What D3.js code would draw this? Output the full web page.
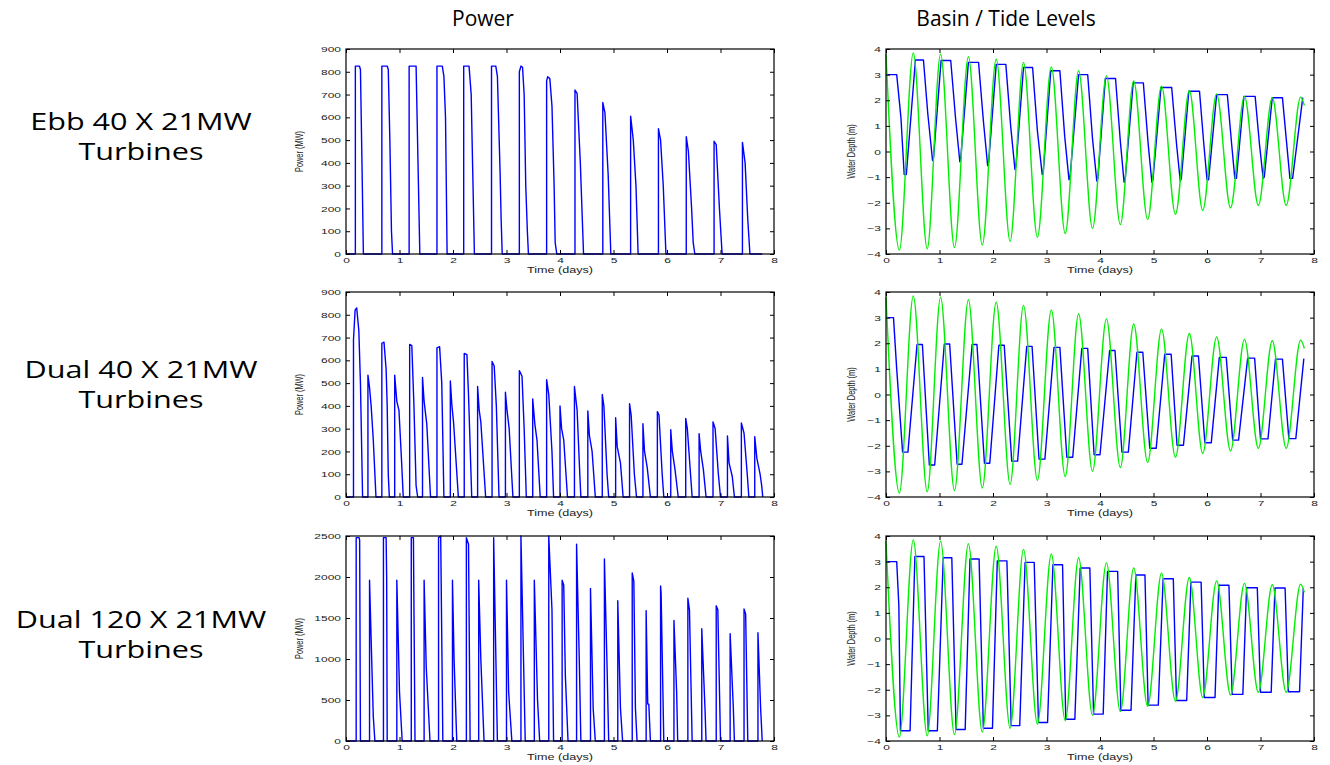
<!DOCTYPE html>
<html>
<head>
<meta charset="utf-8">
<script src="https://cdn.jsdelivr.net/npm/d3@7"></script>
<style>
  body { margin: 0; background: #fff; }
  svg { display: block; }
</style>
</head>
<body>
<svg id="chart" width="1330" height="765"></svg>
<script>
// row / column headings
const colTitles = ['Power', 'Basin / Tide Levels'];
const rowTitles = [['Ebb 40 X 21MW', 'Turbines'], ['Dual 40 X 21MW', 'Turbines'], ['Dual 120 X 21MW', 'Turbines']];

// tick values
const timeTicks = [0, 1, 2, 3, 4, 5, 6, 7, 8];
const powerTicks = [0, 100, 200, 300, 400, 500, 600, 700, 800, 900];
const bigPowerTicks = [0, 500, 1000, 1500, 2000, 2500];
const depthTicks = [-4, -3, -2, -1, 0, 1, 2, 3, 4];

// tide level (green), read at the peaks and troughs: [days, m]
const tide = [[0, 3.8], [0.25, -3.85], [0.51, 3.85], [0.77, -3.8], [1.02, 3.8], [1.28, -3.75], [1.54, 3.7],
  [1.8, -3.65], [2.06, 3.6], [2.32, -3.5], [2.57, 3.48], [2.83, -3.35], [3.09, 3.3], [3.35, -3.2], [3.6, 3.15],
  [3.86, -3.0], [4.12, 2.95], [4.38, -2.85], [4.63, 2.75], [4.89, -2.65], [5.15, 2.55], [5.41, -2.45],
  [5.67, 2.38], [5.92, -2.3], [6.18, 2.25], [6.44, -2.2], [6.7, 2.15], [6.96, -2.1], [7.22, 2.1], [7.48, -2.1],
  [7.75, 2.12], [7.82, 1.8]];

// basin levels (blue): [days, m]
const ebbBasin = [[0, 3.0], [0.2, 3.0], [0.28, 1.3], [0.34, -0.9], [0.38, -0.9], [0.55, 3.57], [0.7, 3.57],
  [0.78, 1.5], [0.87, -0.35], [0.89, -0.2], [1.03, 3.55], [1.21, 3.55], [1.3, 1.3], [1.38, -0.4], [1.4, -0.2],
  [1.54, 3.48], [1.73, 3.48], [1.82, 1.2], [1.9, -0.55], [1.92, -0.4], [2.06, 3.4], [2.24, 3.4], [2.33, 1.0],
  [2.41, -0.7], [2.43, -0.55], [2.57, 3.28], [2.74, 3.28], [2.83, 0.8], [2.92, -0.9], [2.94, -0.8], [3.08, 3.15],
  [3.25, 3.15], [3.34, 0.6], [3.42, -1.1], [3.44, -1.0], [3.6, 3.0], [3.77, 3.0], [3.86, 0.5], [3.94, -1.15],
  [3.96, -1.05], [4.1, 2.85], [4.29, 2.85], [4.38, 0.4], [4.45, -1.2], [4.47, -1.1], [4.62, 2.68], [4.81, 2.68],
  [4.9, 0.3], [4.97, -1.2], [4.99, -1.1], [5.14, 2.5], [5.34, 2.5], [5.43, 0.3], [5.5, -1.15], [5.52, -1.05],
  [5.66, 2.35], [5.86, 2.35], [5.94, 0.3], [6.0, -1.1], [6.03, -1.1], [6.18, 2.22], [6.38, 2.22], [6.46, 0.3],
  [6.52, -1.05], [6.55, -1.05], [6.69, 2.15], [6.9, 2.15], [6.98, 0.3], [7.05, -1.05], [7.07, -1.0], [7.22, 2.1],
  [7.41, 2.1], [7.49, 0.3], [7.55, -1.05], [7.6, -1.05], [7.79, 2.1]];

const dual40Basin = [[0, 3.0], [0.14, 3.0], [0.2, 1.0], [0.31, -2.25], [0.41, -2.25], [0.58, 1.95], [0.68, 1.95],
  [0.81, -2.75], [0.91, -2.75], [1.09, 1.97], [1.19, 1.97], [1.33, -2.72], [1.42, -2.72], [1.61, 1.95], [1.7, 1.95],
  [1.84, -2.68], [1.94, -2.68], [2.11, 1.92], [2.21, 1.92], [2.35, -2.6], [2.46, -2.6], [2.63, 1.88], [2.73, 1.88],
  [2.86, -2.52], [2.97, -2.52], [3.14, 1.84], [3.25, 1.84], [3.38, -2.45], [3.49, -2.45], [3.66, 1.8], [3.77, 1.8],
  [3.89, -2.35], [4.0, -2.35], [4.18, 1.72], [4.28, 1.72], [4.41, -2.25], [4.53, -2.25], [4.69, 1.65], [4.8, 1.65],
  [4.93, -2.1], [5.05, -2.1], [5.21, 1.57], [5.33, 1.57], [5.44, -1.98], [5.56, -1.98], [5.72, 1.5], [5.84, 1.5],
  [5.96, -1.88], [6.08, -1.88], [6.23, 1.45], [6.36, 1.45], [6.48, -1.78], [6.59, -1.78], [6.76, 1.42], [6.89, 1.42],
  [7.0, -1.73], [7.14, -1.73], [7.28, 1.38], [7.41, 1.38], [7.53, -1.72], [7.66, -1.72], [7.81, 1.4]];

const dual120Basin = [[0, 3.0], [0.2, 3.0], [0.24, 1.3], [0.27, -3.6], [0.45, -3.6], [0.54, 3.2], [0.71, 3.2],
  [0.79, -3.6], [0.96, -3.6], [1.07, 3.15], [1.23, 3.15], [1.31, -3.55], [1.48, -3.55], [1.57, 3.1], [1.74, 3.1],
  [1.82, -3.5], [1.99, -3.5], [2.08, 3.03], [2.26, 3.03], [2.34, -3.4], [2.5, -3.4], [2.6, 2.97], [2.77, 2.97],
  [2.85, -3.28], [3.02, -3.28], [3.12, 2.88], [3.3, 2.88], [3.36, -3.15], [3.53, -3.15], [3.63, 2.75], [3.81, 2.75],
  [3.88, -2.95], [4.06, -2.95], [4.14, 2.62], [4.33, 2.62], [4.39, -2.8], [4.58, -2.8], [4.67, 2.48], [4.84, 2.48],
  [4.9, -2.6], [5.09, -2.6], [5.18, 2.33], [5.37, 2.33], [5.43, -2.42], [5.62, -2.42], [5.7, 2.2], [5.89, 2.2],
  [5.95, -2.3], [6.15, -2.3], [6.22, 2.08], [6.41, 2.08], [6.47, -2.18], [6.67, -2.18], [6.74, 1.98], [6.94, 1.98],
  [7.0, -2.1], [7.2, -2.1], [7.27, 1.97], [7.46, 1.97], [7.52, -2.08], [7.73, -2.08], [7.8, 1.95]];

// power output (blue): [days, MW]
const ebbPower = [[0, 0], [0.175, 0], [0.175, 825], [0.25, 825], [0.27, 810], [0.3, 380], [0.325, 0],
  [0.67, 0], [0.67, 825], [0.77, 825], [0.79, 810], [0.82, 500], [0.85, 100], [0.87, 0],
  [1.18, 0], [1.18, 825], [1.31, 825], [1.38, 0],
  [1.7, 0], [1.7, 825], [1.8, 825], [1.83, 780], [1.86, 600], [1.89, 0],
  [2.2, 0], [2.2, 825], [2.3, 825], [2.34, 700], [2.37, 350], [2.4, 0],
  [2.72, 0], [2.72, 825], [2.8, 825], [2.83, 780], [2.88, 360], [2.9, 150], [2.92, 0],
  [3.24, 0], [3.24, 800], [3.27, 825], [3.3, 820], [3.33, 700], [3.36, 300], [3.39, 100], [3.41, 0],
  [3.75, 0], [3.75, 760], [3.77, 778], [3.81, 770], [3.85, 650], [3.89, 300], [3.91, 50], [3.94, 0],
  [4.28, 0], [4.28, 720], [4.32, 705], [4.38, 400], [4.44, 0],
  [4.8, 0], [4.8, 665], [4.84, 620], [4.9, 350], [4.95, 0],
  [5.32, 0], [5.32, 605], [5.37, 500], [5.42, 300], [5.46, 0],
  [5.84, 0], [5.84, 550], [5.88, 500], [5.93, 300], [5.98, 0],
  [6.36, 0], [6.36, 515], [6.4, 450], [6.46, 200], [6.49, 50], [6.52, 0],
  [6.88, 0], [6.88, 495], [6.92, 480], [6.98, 200], [7.03, 0],
  [7.41, 0], [7.41, 490], [7.46, 400], [7.51, 150], [7.55, 0], [7.78, 0]];

const dual40Power = [[0, 0], [0.14, 0], [0.14, 690], [0.17, 820], [0.2, 830], [0.24, 730], [0.27, 500], [0.31, 0],
  [0.41, 0], [0.41, 535], [0.44, 480], [0.47, 400], [0.51, 250], [0.56, 0],
  [0.67, 0], [0.67, 675], [0.71, 680], [0.75, 560], [0.77, 400], [0.79, 100], [0.81, 0],
  [0.91, 0], [0.91, 535], [0.95, 420], [0.99, 380], [1.04, 150], [1.07, 0],
  [1.19, 0], [1.19, 670], [1.23, 665], [1.27, 400], [1.31, 50], [1.34, 0],
  [1.43, 0], [1.43, 525], [1.46, 420], [1.51, 320], [1.58, 0],
  [1.7, 0], [1.7, 655], [1.75, 660], [1.79, 500], [1.83, 0],
  [1.95, 0], [1.95, 510], [1.98, 400], [2.01, 330], [2.1, 0],
  [2.21, 0], [2.21, 630], [2.26, 625], [2.29, 450], [2.35, 0],
  [2.46, 0], [2.46, 485], [2.49, 380], [2.52, 330], [2.61, 0],
  [2.73, 0], [2.73, 595], [2.77, 575], [2.81, 400], [2.86, 0],
  [2.98, 0], [2.98, 460], [3.01, 380], [3.05, 300], [3.12, 0],
  [3.24, 0], [3.24, 555], [3.29, 530], [3.33, 300], [3.37, 0],
  [3.49, 0], [3.49, 430], [3.53, 320], [3.57, 250], [3.63, 0],
  [3.75, 0], [3.75, 515], [3.79, 450], [3.85, 200], [3.88, 0],
  [4.0, 0], [4.0, 400], [4.03, 300], [4.07, 250], [4.14, 0],
  [4.27, 0], [4.27, 485], [4.32, 380], [4.37, 100], [4.39, 0],
  [4.52, 0], [4.52, 378], [4.55, 270], [4.6, 200], [4.66, 0],
  [4.79, 0], [4.79, 450], [4.82, 400], [4.88, 100], [4.91, 0],
  [5.04, 0], [5.04, 348], [5.07, 220], [5.13, 150], [5.18, 0],
  [5.3, 0], [5.3, 410], [5.33, 360], [5.39, 100], [5.43, 0],
  [5.55, 0], [5.55, 322], [5.58, 200], [5.63, 130], [5.69, 0],
  [5.82, 0], [5.82, 375], [5.85, 360], [5.91, 100], [5.94, 0],
  [6.07, 0], [6.07, 295], [6.1, 200], [6.15, 120], [6.21, 0],
  [6.35, 0], [6.35, 345], [6.38, 300], [6.44, 100], [6.47, 0],
  [6.6, 0], [6.6, 278], [6.63, 200], [6.68, 120], [6.73, 0],
  [6.86, 0], [6.86, 330], [6.9, 300], [6.96, 100], [7.0, 0],
  [7.13, 0], [7.13, 268], [7.16, 150], [7.22, 90], [7.26, 0],
  [7.39, 0], [7.39, 325], [7.44, 280], [7.5, 100], [7.53, 0],
  [7.64, 0], [7.64, 265], [7.68, 170], [7.74, 100], [7.77, 50], [7.79, 0]];

const dual120Power = [[0, 0], [0.19, 0], [0.19, 2480], [0.245, 2480], [0.255, 2450], [0.27, 0],
  [0.44, 0], [0.44, 1960], [0.48, 1000], [0.51, 300], [0.54, 0],
  [0.7, 0], [0.7, 2480], [0.75, 2480], [0.76, 2000], [0.77, 0],
  [0.95, 0], [0.95, 1960], [1.0, 600], [1.05, 0],
  [1.22, 0], [1.22, 2480], [1.26, 2480], [1.29, 0],
  [1.46, 0], [1.46, 1960], [1.5, 900], [1.57, 0],
  [1.73, 0], [1.73, 2480], [1.77, 2500], [1.81, 0],
  [1.99, 0], [1.99, 1960], [2.02, 1000], [2.07, 0],
  [2.25, 0], [2.25, 2480], [2.29, 2400], [2.32, 0],
  [2.48, 0], [2.48, 1960], [2.52, 1000], [2.58, 0],
  [2.76, 0], [2.76, 2480], [2.83, 0],
  [3.0, 0], [3.0, 1960], [3.04, 600], [3.1, 0],
  [3.27, 0], [3.27, 2500], [3.35, 0],
  [3.52, 0], [3.52, 1960], [3.58, 500], [3.62, 0],
  [3.79, 0], [3.79, 2500], [3.85, 1600], [3.88, 0],
  [4.04, 0], [4.04, 1960], [4.07, 1900], [4.1, 800], [4.15, 0],
  [4.31, 0], [4.31, 2400], [4.36, 1000], [4.39, 0],
  [4.57, 0], [4.57, 1860], [4.62, 400], [4.66, 0],
  [4.83, 0], [4.83, 2220], [4.88, 900], [4.91, 0],
  [5.08, 0], [5.08, 1710], [5.13, 400], [5.17, 0],
  [5.35, 0], [5.35, 2050], [5.38, 1950], [5.41, 400], [5.44, 0],
  [5.61, 0], [5.61, 1590], [5.64, 450], [5.66, 450], [5.69, 0],
  [5.88, 0], [5.88, 1890], [5.89, 1800], [5.94, 0],
  [6.13, 0], [6.13, 1470], [6.18, 600], [6.2, 0],
  [6.39, 0], [6.39, 1740], [6.42, 1600], [6.47, 0],
  [6.65, 0], [6.65, 1370], [6.71, 400], [6.73, 0],
  [6.92, 0], [6.92, 1650], [6.95, 1600], [7.0, 0],
  [7.18, 0], [7.18, 1310], [7.24, 400], [7.26, 0],
  [7.44, 0], [7.44, 1610], [7.47, 1550], [7.51, 0],
  [7.7, 0], [7.7, 1320], [7.75, 400], [7.78, 0]];

const BLUE = '#0000ff';
const GREEN = '#00ee00';
const SX = 1.5; // small text in the original is stretched sideways

const svg = d3.select('#chart');
const colLeft = [346, 886];
const rowTop = [49, 292, 536];
const pw = 428, ph = 205;

// stretch text of an axis without moving its anchor point
function stretchText(sel, sx) {
  sel.each(function () {
    const t = d3.select(this);
    const x = +t.attr('x') || 0, y = +t.attr('y') || 0;
    t.attr('x', 0).attr('y', 0).attr('transform', `translate(${x},${y}) scale(${sx},1)`);
  });
}

function drawPanel(col, row, yTicks, yLabel, lines) {
  const g = svg.append('g').attr('transform', `translate(${colLeft[col]},${rowTop[row]})`);
  const x = d3.scaleLinear().domain([0, 8]).range([0, pw]);
  const y = d3.scaleLinear().domain(d3.extent(yTicks)).range([ph, 0]);

  const line = d3.line().x(d => x(d[0])).y(d => y(d[1]));
  lines.forEach(function (l) {
    g.append('path')
      .attr('d', line.curve(l.curve || d3.curveLinear)(l.data))
      .attr('fill', 'none')
      .attr('stroke', l.color)
      .attr('stroke-width', 1.4)
      .attr('stroke-linejoin', 'round');
  });

  const bottom = g.append('g').attr('transform', `translate(0,${ph})`)
    .call(d3.axisBottom(x).tickValues(timeTicks).tickFormat(d3.format('d'))
      .tickSizeInner(-4).tickSizeOuter(0).tickPadding(3));
  const left = g.append('g')
    .call(d3.axisLeft(y).tickValues(yTicks).tickFormat(d3.format('d'))
      .tickSizeInner(-4).tickSizeOuter(0).tickPadding(5));
  g.append('g').call(d3.axisTop(x).tickValues(timeTicks).tickSizeInner(-4).tickSizeOuter(0).tickFormat(''));
  g.append('g').attr('transform', `translate(${pw},0)`)
    .call(d3.axisRight(y).tickValues(yTicks).tickSizeInner(-4).tickSizeOuter(0).tickFormat(''));
  g.selectAll('.domain').remove();
  g.selectAll('.tick line').attr('stroke', '#000');
  g.selectAll('.tick text').attr('font-family', 'Liberation Sans, Arial, sans-serif').attr('font-size', 8).attr('fill', '#222');
  stretchText(bottom.selectAll('.tick text'), SX);
  stretchText(left.selectAll('.tick text'), SX);

  g.append('rect').attr('width', pw).attr('height', ph)
    .attr('fill', 'none').attr('stroke', '#000').attr('stroke-width', 1.2);

  g.append('text')
    .attr('transform', `translate(${pw / 2},${ph + 19}) scale(${SX},1)`)
    .attr('text-anchor', 'middle')
    .attr('font-family', 'Liberation Sans, Arial, sans-serif')
    .attr('font-size', 8.4)
    .attr('fill', '#222')
    .text('Time (days)');

  const lx = col === 0 ? -43 : -31;
  g.append('text')
    .attr('transform', `translate(${lx},${ph / 2}) scale(${SX},1) rotate(-90)`)
    .attr('text-anchor', 'middle')
    .attr('font-family', 'Liberation Sans, Arial, sans-serif')
    .attr('font-size', 7.4)
    .attr('fill', '#222')
    .text(yLabel);
}

drawPanel(0, 0, powerTicks, 'Power (MW)', [{ data: ebbPower, color: BLUE }]);
drawPanel(0, 1, powerTicks, 'Power (MW)', [{ data: dual40Power, color: BLUE }]);
drawPanel(0, 2, bigPowerTicks, 'Power (MW)', [{ data: dual120Power, color: BLUE }]);
drawPanel(1, 0, depthTicks, 'Water Depth (m)', [{ data: ebbBasin, color: BLUE }, { data: tide, color: GREEN, curve: d3.curveMonotoneX }]);
drawPanel(1, 1, depthTicks, 'Water Depth (m)', [{ data: dual40Basin, color: BLUE }, { data: tide, color: GREEN, curve: d3.curveMonotoneX }]);
drawPanel(1, 2, depthTicks, 'Water Depth (m)', [{ data: dual120Basin, color: BLUE }, { data: tide, color: GREEN, curve: d3.curveMonotoneX }]);

// column titles
const titleX = [483, 1006];
colTitles.forEach(function (t, i) {
  svg.append('text')
    .attr('x', titleX[i]).attr('y', 26)
    .attr('text-anchor', 'middle')
    .attr('font-family', 'Open Sans, sans-serif')
    .attr('font-size', 21)
    .attr('fill', '#000')
    .text(t);
});

// row titles
const rowBase = [130, 378, 628];
rowTitles.forEach(function (lines, r) {
  lines.forEach(function (t, k) {
    svg.append('text')
      .attr('transform', `translate(141,${rowBase[r] + k * 30}) scale(1.33,1)`)
      .attr('text-anchor', 'middle')
      .attr('font-family', 'Open Sans, sans-serif')
      .attr('font-size', 23)
      .attr('fill', '#000')
      .text(t);
  });
});
</script>
</body>
</html>
